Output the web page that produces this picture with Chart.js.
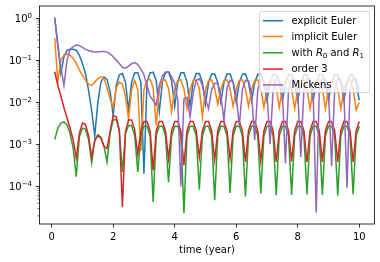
<!DOCTYPE html>
<html>
<head>
<meta charset="utf-8">
<script src="https://cdn.jsdelivr.net/npm/chart.js@4/dist/chart.umd.min.js"></script>
<style>
  html, body { margin: 0; padding: 0; background: #fff; }
  canvas { display: block; }
</style>
</head>
<body>
<canvas id="chart" width="380" height="262"></canvas>
<script>
// time axis (years)
const times = [
  0.1, 0.2, 0.3, 0.4, 0.5, 0.6, 0.7, 0.8, 0.9, 1.0,
  1.1, 1.2, 1.3, 1.4, 1.5, 1.6, 1.7, 1.8, 1.9, 2.0,
  2.1, 2.2, 2.3, 2.4, 2.5, 2.6, 2.7, 2.8, 2.9, 3.0,
  3.1, 3.2, 3.3, 3.4, 3.5, 3.6, 3.7, 3.8, 3.9, 4.0,
  4.1, 4.2, 4.3, 4.4, 4.5, 4.6, 4.7, 4.8, 4.9, 5.0,
  5.1, 5.2, 5.3, 5.4, 5.5, 5.6, 5.7, 5.8, 5.9, 6.0,
  6.1, 6.2, 6.3, 6.4, 6.5, 6.6, 6.7, 6.8, 6.9, 7.0,
  7.1, 7.2, 7.3, 7.4, 7.5, 7.6, 7.7, 7.8, 7.9, 8.0,
  8.1, 8.2, 8.3, 8.4, 8.5, 8.6, 8.7, 8.8, 8.9, 9.0,
  9.1, 9.2, 9.3, 9.4, 9.5, 9.6, 9.7, 9.8, 9.9, 10.0
];

const explicitEuler = [
  0.95, 0.25, 0.049, 0.12, 0.17, 0.18, 0.18, 0.17, 0.13, 0.083,
  0.048, 0.019, 0.0065, 0.0016, 0.0095, 0.03, 0.04, 0.035, 0.018, 0.0049,
  0.025, 0.045, 0.048, 0.03, 0.0065, 0.03, 0.05, 0.05, 0.03, 0.0002,
  0.03, 0.05, 0.052, 0.032, 0.006, 0.03, 0.05, 0.052, 0.032, 0.008,
  0.03, 0.05, 0.05, 0.03, 0.008, 0.03, 0.048, 0.048, 0.03, 0.009,
  0.029, 0.047, 0.047, 0.029, 0.01, 0.029, 0.047, 0.047, 0.029, 0.01,
  0.029, 0.046, 0.047, 0.029, 0.011, 0.029, 0.046, 0.046, 0.029, 0.011,
  0.028, 0.046, 0.046, 0.028, 0.011, 0.028, 0.045, 0.046, 0.028, 0.011,
  0.028, 0.045, 0.045, 0.028, 0.011, 0.028, 0.045, 0.045, 0.028, 0.011,
  0.028, 0.045, 0.045, 0.028, 0.011, 0.028, 0.045, 0.045, 0.028, 0.011
];

const implicitEuler = [
  0.33, 0.03, 0.1, 0.13, 0.14, 0.13, 0.11, 0.085, 0.058, 0.044,
  0.033, 0.027, 0.025, 0.03, 0.036, 0.04, 0.037, 0.022, 0.012, 0.0075,
  0.022, 0.03, 0.027, 0.014, 0.004, 0.02, 0.033, 0.02, 0.0007, 0.02,
  0.033, 0.035, 0.022, 0.0028, 0.02, 0.033, 0.034, 0.021, 0.006, 0.02,
  0.033, 0.034, 0.021, 0.007, 0.02, 0.033, 0.034, 0.021, 0.0045, 0.02,
  0.033, 0.034, 0.021, 0.009, 0.02, 0.033, 0.034, 0.021, 0.008, 0.02,
  0.033, 0.034, 0.021, 0.008, 0.02, 0.033, 0.034, 0.021, 0.0075, 0.02,
  0.033, 0.034, 0.021, 0.0075, 0.02, 0.033, 0.034, 0.021, 0.007, 0.02,
  0.033, 0.034, 0.021, 0.007, 0.02, 0.033, 0.034, 0.021, 0.007, 0.02,
  0.033, 0.034, 0.021, 0.007, 0.02, 0.033, 0.034, 0.021, 0.0065, 0.01
];

const withR0R1 = [
  0.0013, 0.0024, 0.0032, 0.0034, 0.0029, 0.0018, 0.0008, 0.00017, 0.0015, 0.0024,
  0.0023, 0.0013, 0.00036, 0.0012, 0.0017, 0.0015, 0.0009, 0.00038, 0.0018, 0.0038,
  0.0039, 0.002, 0.00022, 0.0018, 0.0028, 0.0028, 0.0016, 0.00022, 0.0016, 0.0027,
  0.0027, 0.0016, 0.000043, 0.0016, 0.0027, 0.0027, 0.0016, 0.000126, 0.0016, 0.0027,
  0.0027, 0.0016, 0.000023, 0.0016, 0.0027, 0.0027, 0.0016, 0.000083, 0.0016, 0.0027,
  0.0027, 0.0016, 0.000047, 0.0016, 0.0027, 0.0027, 0.0016, 0.00007, 0.0016, 0.0027,
  0.0027, 0.0016, 0.000058, 0.0016, 0.0027, 0.0027, 0.0016, 0.000068, 0.0016, 0.0027,
  0.0027, 0.0016, 0.000062, 0.0016, 0.0027, 0.0027, 0.0016, 0.000063, 0.0016, 0.0027,
  0.0027, 0.0016, 0.000064, 0.0016, 0.0027, 0.0027, 0.0016, 0.000063, 0.0016, 0.0027,
  0.0027, 0.0016, 0.00006, 0.0016, 0.0027, 0.0027, 0.0016, 0.000064, 0.0016, 0.0027
];

const order3 = [
  0.053, 0.025, 0.014, 0.0074, 0.0042, 0.0024, 0.00126, 0.00047, 0.0018, 0.0032,
  0.003, 0.0016, 0.0005, 0.00125, 0.0016, 0.0014, 0.0009, 0.0008, 0.002, 0.0048,
  0.0045, 0.0022, 0.000032, 0.002, 0.0038, 0.0038, 0.0022, 0.00058, 0.0021, 0.0035,
  0.0035, 0.0021, 0.00024, 0.0021, 0.0035, 0.0035, 0.0021, 0.00045, 0.0021, 0.0035,
  0.0035, 0.0021, 0.00032, 0.0021, 0.0035, 0.0035, 0.0021, 0.0005, 0.0021, 0.0035,
  0.0035, 0.0021, 0.00042, 0.0021, 0.0035, 0.0035, 0.0021, 0.00045, 0.0021, 0.0035,
  0.0035, 0.0021, 0.00038, 0.0021, 0.0035, 0.0035, 0.0021, 0.0004, 0.0021, 0.0035,
  0.0035, 0.0021, 0.00038, 0.0021, 0.0035, 0.0035, 0.0021, 0.00039, 0.0021, 0.0035,
  0.0035, 0.0021, 0.00038, 0.0021, 0.0035, 0.0035, 0.0021, 0.00038, 0.0021, 0.0035,
  0.0035, 0.0021, 0.00038, 0.0021, 0.0035, 0.0035, 0.0021, 0.00038, 0.0021, 0.0035
];

const mickens = [
  1.05, 0.21, 0.069, 0.025, 0.1, 0.18, 0.21, 0.23, 0.22, 0.2,
  0.18, 0.17, 0.16, 0.155, 0.155, 0.16, 0.16, 0.155, 0.14, 0.12,
  0.1, 0.083, 0.067, 0.064, 0.072, 0.082, 0.087, 0.078, 0.062, 0.045,
  0.025, 0.014, 0.011, 0.0085, 0.025, 0.042, 0.052, 0.053, 0.04, 0.028,
  0.011, 0.0001, 0.012, 0.013, 0.0045, 0.016, 0.033, 0.036, 0.025, 0.012,
  0.007, 0.02, 0.028, 0.028, 0.015, 0.0037, 0.022, 0.033, 0.03, 0.015,
  0.0027, 0.02, 0.033, 0.032, 0.016, 0.00125, 0.02, 0.034, 0.033, 0.017,
  0.001, 0.02, 0.035, 0.034, 0.018, 0.00035, 0.02, 0.036, 0.035, 0.018,
  0.0005, 0.02, 0.037, 0.036, 0.018, 0.000024, 0.02, 0.037, 0.036, 0.018,
  0.0003, 0.02, 0.037, 0.036, 0.018, 0.000093, 0.02, 0.037, 0.036, 0.018
];

const seriesLabels = ['explicit Euler', 'implicit Euler', 'with R0 and R1', 'order 3', 'Mickens'];
const seriesColors = ['#1f77b4', '#ff7f0e', '#2ca02c', '#d62728', '#9467bd'];
const xTicks = [0, 2, 4, 6, 8, 10];
const yTicks = [1e-4, 1e-3, 1e-2, 1e-1, 1];
const yTickExponents = ['\u22124', '\u22123', '\u22122', '\u22121', '0'];

const FONT = '"DejaVu Sans", sans-serif';

// legend text pieces: n = normal, i = italic (math), s = subscript
const legendParts = [
  [['explicit Euler', 'n']],
  [['implicit Euler', 'n']],
  [['with ', 'n'], ['R', 'i'], ['0', 's'], [' and ', 'n'], ['R', 'i'], ['1', 's']],
  [['order 3', 'n']],
  [['Mickens', 'n']]
];

const toPoints = vals => vals.map((v, i) => ({ x: times[i], y: v }));
const allSeries = [explicitEuler, implicitEuler, withR0R1, order3, mickens];

// extra axis decoration: spines, minor log ticks, y labels with exponents, x title
const axisDecor = {
    id: 'axisDecor',
    afterDatasetsDraw(chart) {
        const { ctx, chartArea: a } = chart;
        const y = chart.scales.y;
        ctx.save();

        // minor ticks on log axis
        ctx.strokeStyle = '#000';
        ctx.lineWidth = 0.6;
        for (let k = -5; k <= 0; k++) {
            for (let m = 2; m <= 9; m++) {
                const v = m * Math.pow(10, k);
                if (v < y.min || v > y.max) continue;
                const py = y.getPixelForValue(v);
                ctx.beginPath();
                ctx.moveTo(a.left - 2, py);
                ctx.lineTo(a.left, py);
                ctx.stroke();
            }
        }

        // spines
        ctx.lineWidth = 0.8;
        ctx.strokeRect(a.left, a.top, a.right - a.left, a.bottom - a.top);

        // y tick labels: 10 with superscript exponent
        ctx.fillStyle = '#000';
        ctx.textAlign = 'right';
        ctx.textBaseline = 'alphabetic';
        yTicks.forEach((v, i) => {
            const py = y.getPixelForValue(v);
            const rightEdge = a.left - 7.5;
            ctx.font = '7px ' + FONT;
            const expW = ctx.measureText(yTickExponents[i]).width;
            ctx.fillText(yTickExponents[i], rightEdge, py - 0.3);
            ctx.font = '10px ' + FONT;
            ctx.fillText('10', rightEdge - expW, py + 3.6);
        });

        // x axis title
        ctx.textAlign = 'center';
        ctx.textBaseline = 'middle';
        ctx.font = '10px ' + FONT;
        ctx.fillText('time (year)', (a.left + a.right) / 2, 250);
        ctx.restore();
    }
};

// matplotlib-like legend in the upper right
const legendBox = {
    id: 'legendBox',
    afterDraw(chart) {
        const ctx = chart.ctx;
        const bx = 259.5, by = 11.5, bw = 110, bh = 81, r = 2;
        const rowY = [20.2, 36, 52.3, 68.6, 84.4];
        ctx.save();
        ctx.beginPath();
        ctx.moveTo(bx + r, by);
        ctx.lineTo(bx + bw - r, by);
        ctx.arcTo(bx + bw, by, bx + bw, by + r, r);
        ctx.lineTo(bx + bw, by + bh - r);
        ctx.arcTo(bx + bw, by + bh, bx + bw - r, by + bh, r);
        ctx.lineTo(bx + r, by + bh);
        ctx.arcTo(bx, by + bh, bx, by + bh - r, r);
        ctx.lineTo(bx, by + r);
        ctx.arcTo(bx, by, bx + r, by, r);
        ctx.closePath();
        ctx.fillStyle = 'rgba(255,255,255,0.8)';
        ctx.fill();
        ctx.strokeStyle = 'rgba(204,204,204,0.8)';
        ctx.lineWidth = 1;
        ctx.stroke();

        legendParts.forEach((parts, i) => {
            const cy = rowY[i];
            ctx.strokeStyle = seriesColors[i];
            ctx.lineWidth = 1.5;
            ctx.beginPath();
            ctx.moveTo(263, cy + 0.5);
            ctx.lineTo(283, cy + 0.5);
            ctx.stroke();

            let x = 291.5;
            ctx.fillStyle = '#000';
            ctx.textAlign = 'left';
            ctx.textBaseline = 'alphabetic';
            parts.forEach(([txt, kind]) => {
                let dy = 3.6;
                if (kind === 'i') ctx.font = 'italic 10px ' + FONT;
                else if (kind === 's') { ctx.font = '7px ' + FONT; dy = 5.6; }
                else ctx.font = '10px ' + FONT;
                ctx.fillText(txt, x, cy + dy);
                x += ctx.measureText(txt).width;
            });
        });
        ctx.restore();
    }
};

new Chart(document.getElementById('chart'), {
    type: 'line',
    data: {
        datasets: allSeries.map((vals, i) => ({
            label: seriesLabels[i],
            data: toPoints(vals),
            borderColor: seriesColors[i],
            backgroundColor: seriesColors[i],
            borderWidth: 1.5,
            pointRadius: 0,
            tension: 0,
            fill: false,
            order: 5 - i
        }))
    },
    options: {
        responsive: false,
        animation: false,
        devicePixelRatio: 1,
        layout: { padding: { left: 0, right: 5.5, top: 6, bottom: 15.5 } },
        plugins: {
            legend: { display: false },
            tooltip: { enabled: false }
        },
        scales: {
            x: {
                type: 'linear',
                min: -0.395,
                max: 10.495,
                afterBuildTicks: s => { s.ticks = xTicks.map(v => ({ value: v })); },
                ticks: {
                    font: { family: FONT, size: 10 },
                    color: '#000',
                    padding: 3.5,
                    maxRotation: 0,
                    callback: v => String(v)
                },
                grid: { drawOnChartArea: false, tickLength: 3.5, tickColor: '#000', tickWidth: 0.8 },
                border: { display: false }
            },
            y: {
                type: 'logarithmic',
                min: 1.28e-5,
                max: 1.93,
                afterBuildTicks: s => { s.ticks = yTicks.map(v => ({ value: v })); },
                afterFit: s => { s.width = 39.5; },
                ticks: { display: false },
                grid: { drawOnChartArea: false, tickLength: 3.5, tickColor: '#000', tickWidth: 0.8 },
                border: { display: false }
            }
        }
    },
    plugins: [axisDecor, legendBox]
});
</script>
</body>
</html>
